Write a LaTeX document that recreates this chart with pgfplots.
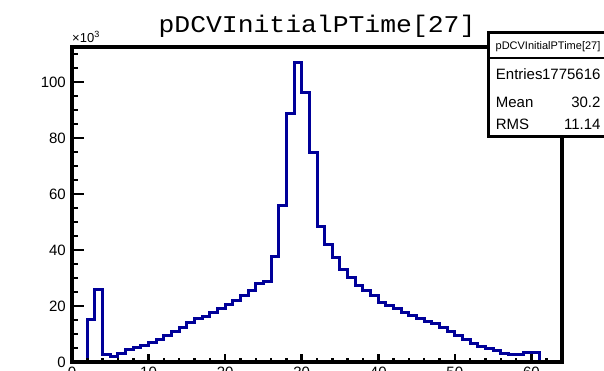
\documentclass[border=0pt]{standalone}
\usepackage{pgfplots}
\pgfplotsset{compat=1.18}
\usepackage{fontspec}
\setmainfont{Liberation Sans}
\newfontfamily\monofont{Liberation Mono}
\definecolor{histblue}{RGB}{0,0,153}
\begin{document}
\begin{tikzpicture}[x=1pt,y=1pt]
\begin{axis}[
  at={(0,0)}, anchor=south west,
  scale only axis, width=490pt, height=315pt,
  xmin=0, xmax=64, ymin=0, ymax=112.5,
  axis on top,
  axis line style={line width=3.5pt, black},
  xtick={0,10,...,60},
  minor xtick={2,4,...,62},
  ytick={0,20,...,100},
  minor ytick={5,10,...,110},
  tick align=inside,
  xtick pos=bottom, ytick pos=left,
  major tick length=10pt, minor tick length=5pt,
  xtick style={/pgfplots/major tick length=8pt,/pgfplots/minor tick length=4pt},
  ytick style={/pgfplots/major tick length=12pt,/pgfplots/minor tick length=6pt},
  tick style={line width=2.5pt, black},
  /pgf/number format/assume math mode=true,
  tick label style={font=\fontsize{15}{15}\selectfont},
  yticklabel style={anchor=east, inner sep=0pt, xshift=-6pt},
  xticklabel style={anchor=north, inner sep=0pt, yshift=-5pt},
  clip=false,
]
\addplot[const plot mark left, histblue, line width=3pt] coordinates {
(0,0) (2,15.0) (3,26.0) (4,2.6) (5,2.1) (6,2.9) (7,4.3) (8,5.1) (9,5.8)
(10,6.9) (11,8.1) (12,9.4) (13,11.0) (14,12.4) (15,14.0) (16,15.4) (17,16.4)
(18,17.6) (19,19.1) (20,20.4) (21,21.9) (22,23.7) (23,25.7) (24,28.1) (25,28.7)
(26,37.6) (27,56.0) (28,88.8) (29,107.0) (30,96.3) (31,74.8) (32,48.3) (33,42.1)
(34,37.3) (35,33.2) (36,30.1) (37,27.3) (38,25.7) (39,23.7) (40,21.4) (41,20.2)
(42,19.1) (43,17.7) (44,16.5) (45,15.6) (46,14.6) (47,13.6) (48,12.4) (49,10.8)
(50,9.4) (51,8.2) (52,6.7) (53,5.7) (54,4.9) (55,4.0) (56,3.1) (57,2.5)
(58,2.7) (59,3.5) (60,3.3) (61,0)
};
\end{axis}
% title
\node[anchor=base, inner sep=0pt] at (245,329)
  {\scalebox{1.1}[1]{\monofont\fontsize{24}{24}\selectfont pDCVInitialPTime[27]}};
% exponent
\node[anchor=base west, inner sep=0pt, font=\fontsize{13}{13}\selectfont] at (0,319)
  {×10\raisebox{5pt}{\fontsize{9}{9}\selectfont 3}};
% stat box
\fill[white] (416,225) rectangle (545,329);
\draw[line width=3pt] (416,225) rectangle (545,329);
\draw[line width=2pt] (416,303.7) -- (545,303.7);
\node[anchor=center, inner sep=0pt, font=\fontsize{11}{11}\selectfont] at (476,315.5) {pDCVInitialPTime[27]};
\node[anchor=base west, inner sep=0pt, font=\fontsize{15}{15}\selectfont] at (423.7,282) {Entries};
\node[anchor=base east, inner sep=0pt, font=\fontsize{15}{15}\selectfont] at (528.7,282) {1775616};
\node[anchor=base west, inner sep=0pt, font=\fontsize{15}{15}\selectfont] at (423.7,254.7) {Mean};
\node[anchor=base east, inner sep=0pt, font=\fontsize{15}{15}\selectfont] at (528.7,254.7) {30.2};
\node[anchor=base west, inner sep=0pt, font=\fontsize{15}{15}\selectfont] at (423.7,232) {RMS};
\node[anchor=base east, inner sep=0pt, font=\fontsize{15}{15}\selectfont] at (528.7,232) {11.14};
\pgfresetboundingbox
\useasboundingbox (-72,-9) rectangle (532,362);
\end{tikzpicture}
\end{document}
